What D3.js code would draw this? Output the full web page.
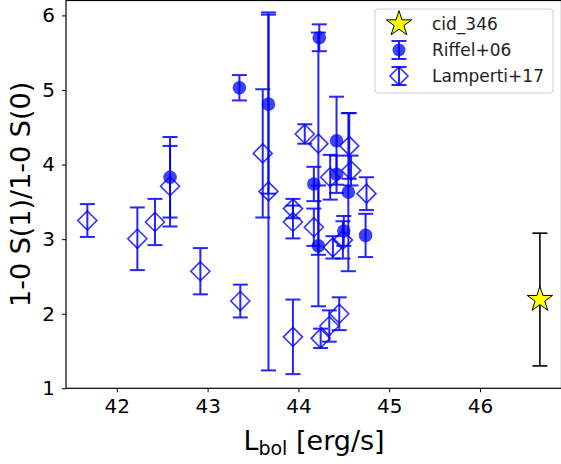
<!DOCTYPE html>
<html>
<head>
<meta charset="utf-8">
<script src="https://cdn.jsdelivr.net/npm/d3@7/dist/d3.min.js"></script>
<style>
  html, body { margin: 0; padding: 0; background: #fff; }
  svg { display: block; font-family: "DejaVu Sans", sans-serif; }
</style>
</head>
<body>
<svg id="chart" width="561" height="464"></svg>
<script>
// log10 bolometric luminosity, line ratio and symmetric error for each sample
const riffelL   = [42.586, 43.35, 43.67, 44.23, 44.17, 44.22, 44.42, 44.42, 44.55, 44.50, 44.74];
const riffelR   = [3.83, 5.03, 4.81, 5.70, 3.74, 2.91, 4.32, 3.87, 3.63, 3.11, 3.05];
const riffelErr = [0.54, 0.17, 1.20, 0.18, 0.23, 0.81, 0.59, 0.25, 1.06, 0.20, 0.29];

const lampL   = [41.675, 42.226, 42.42, 42.586, 42.92, 43.36, 43.607, 43.67, 43.94, 43.94, 43.94, 44.07, 44.22, 44.17, 44.35, 44.56, 44.58, 44.75, 44.38, 44.49, 44.245, 44.34, 44.45];
const lampR   = [3.25, 3.005, 3.23, 3.71, 2.57, 2.17, 4.15, 3.64, 1.69, 3.41, 3.23, 4.41, 4.28, 3.16, 3.83, 4.25, 3.92, 3.61, 2.89, 2.99, 1.67, 1.835, 2.00];
const lampErr = [0.22, 0.42, 0.31, 0.54, 0.31, 0.22, 0.86, 2.40, 0.50, 0.13, 0.22, 0.13, 1.49, 0.25, 0.30, 0.44, 0.20, 0.22, 0.15, 0.25, 0.13, 0.21, 0.22];

const cidL = [46.66];
const cidR = [2.19];
const cidErr = [0.89];

const xTicks = [42, 43, 44, 45, 46];
const yTicks = [1, 2, 3, 4, 5, 6];
const legendLabels = ["cid_346", "Riffel+06", "Lamperti+17"];

const svg = d3.select("#chart");
const plot = { left: 66, right: 561.5, top: 0.5, bottom: 388.3 };

const x = d3.scaleLinear().domain([41.44, 46.898]).range([plot.left, plot.right]);
const y = d3.scaleLinear().domain([1, 6.2]).range([plot.bottom, plot.top]);

const blue = "#0000ff";

// axes
const xAxis = d3.axisBottom(x).tickValues(xTicks).tickSize(4).tickPadding(7).tickFormat(d3.format("d"));
const yAxis = d3.axisLeft(y).tickValues(yTicks).tickSize(4).tickPadding(7).tickFormat(d3.format("d"));

const gx = svg.append("g").attr("transform", `translate(0,${plot.bottom})`).call(xAxis);
const gy = svg.append("g").attr("transform", `translate(${plot.left},0)`).call(yAxis);
[gx, gy].forEach(g => {
  g.select(".domain").remove();
  g.selectAll("line").attr("stroke", "#000").attr("stroke-width", 1);
  g.selectAll("text").attr("font-size", 20).attr("fill", "#000").attr("font-family", "DejaVu Sans, sans-serif");
});

// frame
svg.append("rect")
  .attr("x", plot.left).attr("y", plot.top)
  .attr("width", plot.right - plot.left).attr("height", plot.bottom - plot.top)
  .attr("fill", "none").attr("stroke", "#000").attr("stroke-width", 1.2);

const marks = svg.append("g");

function errorBars(g, L, R, E, color, width, cap, opacity) {
  L.forEach((l, i) => {
    const cx = x(l), y0 = y(R[i] - E[i]), y1 = y(R[i] + E[i]);
    const eg = g.append("g").attr("stroke", color).attr("stroke-width", width).attr("opacity", opacity);
    eg.append("line").attr("x1", cx).attr("x2", cx).attr("y1", y0).attr("y2", y1);
    eg.append("line").attr("x1", cx - cap).attr("x2", cx + cap).attr("y1", y0).attr("y2", y0);
    eg.append("line").attr("x1", cx - cap).attr("x2", cx + cap).attr("y1", y1).attr("y2", y1);
  });
}

function diamondPath(cx, cy, s) {
  return `M${cx},${cy - s}L${cx + s},${cy}L${cx},${cy + s}L${cx - s},${cy}Z`;
}

// Lamperti+17: open diamonds
errorBars(marks, lampL, lampR, lampErr, blue, 2, 7.5, 0.85);
lampL.forEach((l, i) => {
  marks.append("path").attr("d", diamondPath(x(l), y(lampR[i]), 9.5))
    .attr("fill", "none").attr("stroke", blue).attr("stroke-width", 1.6).attr("opacity", 0.8);
});

// Riffel+06: filled circles
errorBars(marks, riffelL, riffelR, riffelErr, blue, 2, 7.5, 0.85);
riffelL.forEach((l, i) => {
  marks.append("circle").attr("cx", x(l)).attr("cy", y(riffelR[i])).attr("r", 6.8)
    .attr("fill", blue).attr("opacity", 0.75);
});

// cid_346: yellow star with black error bar
errorBars(marks, cidL, cidR, cidErr, "#000", 1.6, 7.5, 1);
const star = d3.symbol().type(d3.symbolStar).size(200);
cidL.forEach((l, i) => {
  marks.append("path").attr("d", star())
    .attr("transform", `translate(${x(l)},${y(cidR[i])})`)
    .attr("fill", "#ffff00").attr("stroke", "#000").attr("stroke-width", 1);
});

// axis titles
svg.append("text")
  .attr("transform", `translate(20,${(plot.top + plot.bottom) / 2}) rotate(-90)`)
  .attr("text-anchor", "middle").attr("dominant-baseline", "central")
  .attr("font-size", 27).text("1-0 S(1)/1-0 S(0)");

const xt = svg.append("text")
  .attr("x", 314).attr("y", 450)
  .attr("text-anchor", "middle").attr("font-size", 27);
xt.append("tspan").text("L");
xt.append("tspan").attr("font-size", 19).attr("dy", 5).text("bol");
xt.append("tspan").attr("dy", -5).text(" [erg/s]");

// legend
const lg = svg.append("g").attr("transform", "translate(375,9)");
lg.append("rect").attr("width", 178).attr("height", 84).attr("rx", 3)
  .attr("fill", "#fff").attr("fill-opacity", 0.8).attr("stroke", "#ccc");
const rows = [15, 41, 67];
legendLabels.forEach((t, i) => {
  lg.append("text").attr("x", 57).attr("y", rows[i]).attr("dominant-baseline", "central")
    .attr("font-size", 17).attr("fill", "#222").text(t);
});
// legend handles
const h0 = lg.append("g").attr("transform", `translate(24,${rows[0]})`);
h0.append("path").attr("d", d3.symbol().type(d3.symbolStar).size(200)()).attr("fill", "#ffff00").attr("stroke", "#000");
[rows[1], rows[2]].forEach((ry, k) => {
  const h = lg.append("g").attr("transform", `translate(24,${ry})`).attr("stroke", blue);
  h.append("line").attr("y1", -9).attr("y2", 9).attr("stroke-width", 2).attr("opacity", 0.85);
  h.append("line").attr("x1", -7.5).attr("x2", 7.5).attr("y1", -9).attr("y2", -9).attr("stroke-width", 2).attr("opacity", 0.85);
  h.append("line").attr("x1", -7.5).attr("x2", 7.5).attr("y1", 9).attr("y2", 9).attr("stroke-width", 2).attr("opacity", 0.85);
  if (k === 0) {
    h.append("circle").attr("r", 6.5).attr("fill", blue).attr("stroke", "none").attr("opacity", 0.75);
  } else {
    h.append("path").attr("d", diamondPath(0, 0, 9)).attr("fill", "none").attr("stroke-width", 1.6).attr("opacity", 0.8);
  }
});
</script>
</body>
</html>
